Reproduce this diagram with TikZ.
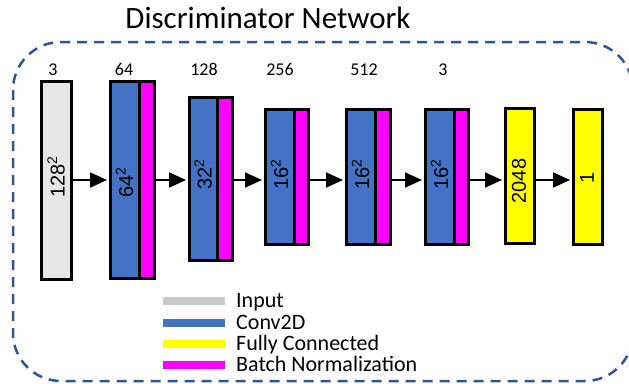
\documentclass[tikz,border=0pt]{standalone}
\usepackage{fontspec}
\setmainfont{Carlito}
\newfontfamily\arialf{Liberation Sans}
\usetikzlibrary{arrows.meta}
\definecolor{inputgray}{HTML}{E7E6E6}
\definecolor{legendgray}{HTML}{C9C9C9}
\definecolor{convblue}{HTML}{4472C4}
\definecolor{fcyellow}{HTML}{FFFF00}
\definecolor{bnmag}{HTML}{FF00FF}
\definecolor{borderblue}{HTML}{2F5597}
\tikzset{
  blk/.style={draw=black, line width=2.5pt, rectangle, inner sep=0pt, anchor=north west},
  rtext/.style={rotate=90, font=\arialf\fontsize{20}{22}\selectfont, inner sep=0pt},
  toplbl/.style={anchor=base, font=\fontsize{18}{20}\selectfont, inner sep=0pt},
  arr/.style={line width=2pt, -{Triangle[length=17pt,width=15pt]}, shorten >=2pt},
  legbar/.style={rectangle, inner sep=0pt, minimum width=62pt, minimum height=8pt},
  legtxt/.style={anchor=base west, font=\fontsize{22}{24}\selectfont, inner sep=0pt},
}
\begin{document}
\begin{tikzpicture}[x=1pt,y=-1pt]
\useasboundingbox (0,0) rectangle (629,383);
% title
\node[anchor=base, font=\fontsize{31}{35}\selectfont, inner sep=0pt] (title) at (268,28) {Discriminator Network};
% dashed frame
\draw[borderblue, line width=2.5pt, rounded corners=48pt, dash pattern=on 10pt off 7pt] (13,42) rectangle (633,381);
% blocks
\node[blk, fill=inputgray, minimum width=30pt, minimum height=198pt] (in) at (40,80) {};
\node[blk, fill=convblue, minimum width=29pt, minimum height=197pt] (c1) at (109,80) {};
\node[blk, fill=bnmag, minimum width=15pt, minimum height=197pt] (b1) at (138,80) {};
\node[blk, fill=convblue, minimum width=28pt, minimum height=163pt] (c2) at (188,96) {};
\node[blk, fill=bnmag, minimum width=15pt, minimum height=163pt] (b2) at (216,96) {};
\node[blk, fill=convblue, minimum width=29pt, minimum height=135pt] (c3) at (264,108) {};
\node[blk, fill=bnmag, minimum width=14pt, minimum height=135pt] (b3) at (293,108) {};
\node[blk, fill=convblue, minimum width=29pt, minimum height=135pt] (c4) at (345,108) {};
\node[blk, fill=bnmag, minimum width=15pt, minimum height=135pt] (b4) at (374,108) {};
\node[blk, fill=convblue, minimum width=29pt, minimum height=135pt] (c5) at (424,108) {};
\node[blk, fill=bnmag, minimum width=14pt, minimum height=135pt] (b5) at (453,108) {};
\node[blk, fill=fcyellow, minimum width=29pt, minimum height=135pt] (f1) at (504,107) {};
\node[blk, fill=fcyellow, minimum width=29pt, minimum height=135pt] (f2) at (572,108) {};
% rotated texts
\node[rtext] (tin) at (56,177) {128\textsuperscript{2}};
\node[rtext] (tc1) at (124.5,182) {64\textsuperscript{2}};
\node[rtext] (tc2) at (203,174) {32\textsuperscript{2}};
\node[rtext] (tc3) at (279.5,174) {16\textsuperscript{2}};
\node[rtext] (tc4) at (360.5,174) {16\textsuperscript{2}};
\node[rtext] (tc5) at (439.5,174) {16\textsuperscript{2}};
\node[rtext] (tf1) at (519,181) {2048};
\node[rtext] (tf2) at (587,178) {1};
% top labels
\node[toplbl] (l0) at (53,75) {3};
\node[toplbl] (l1) at (124,75) {64};
\node[toplbl] (l2) at (204,75) {128};
\node[toplbl] (l3) at (280,75) {256};
\node[toplbl] (l4) at (364,75) {512};
\node[toplbl] (l5) at (443,75) {3};
% arrows
\coordinate (ay) at (0,180);
\draw[arr] (in.east |- ay) -- (c1.west |- ay);
\draw[arr] (b1.east |- ay) -- (c2.west |- ay);
\draw[arr] (b2.east |- ay) -- (c3.west |- ay);
\draw[arr] (b3.east |- ay) -- (c4.west |- ay);
\draw[arr] (b4.east |- ay) -- (c5.west |- ay);
\draw[arr] (b5.east |- ay) -- (f1.west |- ay);
\draw[arr] (f1.east |- ay) -- (f2.west |- ay);
% legend
\node[legbar, fill=legendgray] (lg1) at (194,301) {};
\node[legbar, fill=convblue] (lg2) at (194,322.5) {};
\node[legbar, fill=fcyellow] (lg3) at (194,344) {};
\node[legbar, fill=bnmag] (lg4) at (194,364.5) {};
\node[legtxt] (lt1) at (236,307.5) {Input};
\node[legtxt] (lt2) at (236,329) {Conv2D};
\node[legtxt] (lt3) at (236,350) {Fully Connected};
\node[legtxt] (lt4) at (236,371) {Batch Normalization};
\end{tikzpicture}
\end{document}
